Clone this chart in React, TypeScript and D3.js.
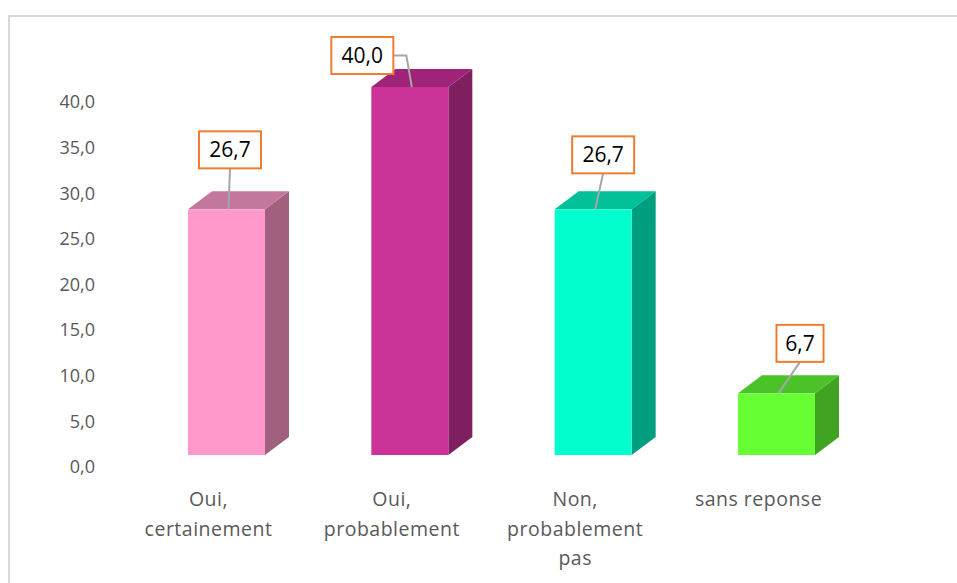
import React, { useRef, useEffect } from 'react';
import * as d3 from 'd3';

const categories: string[][] = [
    ['Oui,', 'certainement'],
    ['Oui,', 'probablement'],
    ['Non,', 'probablement', 'pas'],
    ['sans reponse'],
];
const values: number[] = [26.7, 40.0, 26.7, 6.7];
const yTicks: number[] = [0, 5, 10, 15, 20, 25, 30, 35, 40];

// front / top / side shades per bar
const frontColors = ['#ff99cc', '#cc3399', '#00ffcc', '#66ff33'];
const topColors = ['#c4779d', '#9f2479', '#00bf99', '#4cc229'];
const sideColors = ['#a0607e', '#801f60', '#009e7e', '#40a321'];

// data label box placement relative to the bar's front-top centre (layout only)
const labelOffsets = [
    { dx: 3.5, dy: -59.5, leader: 'down' },
    { dx: -47.5, dy: -31.5, leader: 'elbow' },
    { dx: 10, dy: -54.5, leader: 'down' },
    { dx: 23.5, dy: -50, leader: 'down' },
];

const W = 957;
const H = 583;

export default function App() {
    const svgRef = useRef<SVGSVGElement>(null);

    useEffect(() => {
        document.body.style.margin = '0';
        if (!svgRef.current) return;
        const svg = d3.select(svgRef.current);
        svg.selectAll('*').remove();

        const font = '"Open Sans", "Liberation Sans", sans-serif';

        // chart frame
        svg.append('rect')
            .attr('x', 9).attr('y', 16)
            .attr('width', W + 20).attr('height', H + 20)
            .attr('fill', 'white')
            .attr('stroke', '#d9d9d9').attr('stroke-width', 2);

        // axis scale (back wall) and front-face scale
        const y = d3.scaleLinear().domain([0, 40]).range([467, 102]);
        const fy = d3.scaleLinear().domain([0, 40]).range([455, 87]);
        const x = d3.scaleBand<number>()
            .domain(values.map((_, i) => i))
            .range([127, 864])
            .paddingInner(0.58)
            .paddingOuter(0.3);

        const depthX = 24;
        const depthY = 18;

        // y axis labels
        svg.append('g').selectAll('text')
            .data(yTicks)
            .enter().append('text')
            .attr('x', 95)
            .attr('y', d => y(d))
            .attr('dy', '0.35em')
            .attr('text-anchor', 'end')
            .attr('font-family', font)
            .attr('font-size', 18)
            .attr('fill', '#595959')
            .text(d => d.toFixed(1).replace('.', ','));

        const bars = svg.append('g');
        values.forEach((v, i) => {
            const x0 = x(i)! + 6;
            const x1 = x0 + x.bandwidth();
            const yt = fy(v);
            const yb = fy(0);
            const g = bars.append('g');
            // side
            g.append('path')
                .attr('d', `M${x1},${yb} L${x1 + depthX},${yb - depthY} L${x1 + depthX},${yt - depthY} L${x1},${yt} Z`)
                .attr('fill', sideColors[i]);
            // top
            g.append('path')
                .attr('d', `M${x0},${yt} L${x0 + depthX},${yt - depthY} L${x1 + depthX},${yt - depthY} L${x1},${yt} Z`)
                .attr('fill', topColors[i]);
            // front
            g.append('rect')
                .attr('x', x0).attr('y', yt)
                .attr('width', x1 - x0).attr('height', yb - yt)
                .attr('fill', frontColors[i]);
        });

        // data labels
        const labels = svg.append('g');
        values.forEach((v, i) => {
            const x0 = x(i)! + 6;
            const cx = x0 + x.bandwidth() / 2;
            const yt = fy(v);
            const off = labelOffsets[i];
            const txt = v.toFixed(1).replace('.', ',');
            const bw = txt.length > 3 ? 62 : 47;
            const bh = 37;
            const bx = cx + off.dx - bw / 2;
            const by = yt + off.dy - bh / 2;
            let leader: string;
            if (off.leader === 'elbow') {
                leader = `M${bx + bw},${by + bh / 2} L${bx + bw + 13},${by + bh / 2} L${cx + 2},${yt}`;
            } else {
                leader = `M${bx + bw / 2},${by + bh} L${cx + 2},${yt}`;
            }
            labels.append('path')
                .attr('d', leader)
                .attr('fill', 'none')
                .attr('stroke', '#a6a6a6')
                .attr('stroke-width', 2);
            labels.append('rect')
                .attr('x', bx).attr('y', by)
                .attr('width', bw).attr('height', bh)
                .attr('fill', 'white')
                .attr('stroke', '#ed7d31')
                .attr('stroke-width', 2);
            labels.append('text')
                .attr('x', bx + bw / 2)
                .attr('y', by + bh / 2)
                .attr('dy', '0.36em')
                .attr('text-anchor', 'middle')
                .attr('font-family', font)
                .attr('font-size', 21)
                .attr('fill', '#000')
                .text(txt);
        });

        // category labels
        const cats = svg.append('g');
        categories.forEach((lines, i) => {
            const cx = x(i)! + x.bandwidth() / 2 - 12;
            const t = cats.append('text')
                .attr('text-anchor', 'middle')
                .attr('font-family', font)
                .attr('font-size', 19.5)
                .attr('letter-spacing', 0.5)
                .attr('fill', '#595959');
            lines.forEach((line, j) => {
                t.append('tspan')
                    .attr('x', cx)
                    .attr('y', 506 + j * 29.5)
                    .text(line);
            });
        });
    }, []);

    return (
        <div style={{ width: W, height: H, overflow: 'hidden' }}>
            <svg ref={svgRef} width={W} height={H} viewBox={`0 0 ${W} ${H}`} />
        </div>
    );
}
